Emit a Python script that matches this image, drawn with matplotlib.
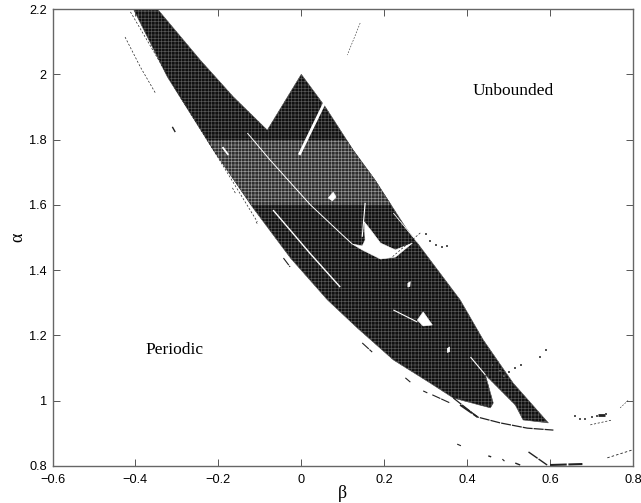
import matplotlib
matplotlib.use("Agg")
import matplotlib.pyplot as plt
from matplotlib.patches import Polygon, Rectangle

# main chaotic region outline (beta, alpha)
region_beta = [-0.405, -0.347, -0.244, -0.164, -0.082, 0.0, 0.058, 0.125, 0.178, 0.251, 0.383,
               0.439, 0.511, 0.596, 0.535, 0.516, 0.444, 0.463, 0.456, 0.367, 0.311, 0.222,
               0.135, 0.063, -0.026, -0.116, -0.212, -0.323]
region_alpha = [2.2, 2.2, 2.044, 1.931, 1.829, 2.0, 1.9, 1.768, 1.676, 1.532, 1.309,
                1.186, 1.054, 0.932, 0.941, 0.987, 1.079, 0.993, 0.978, 1.008, 1.054, 1.125,
                1.223, 1.309, 1.437, 1.59, 1.768, 1.992]

# windows inside the region
holes = [
    [(0.123, 1.48), (0.147, 1.462), (0.191, 1.434), (0.227, 1.44), (0.268, 1.483),
     (0.227, 1.462), (0.191, 1.483), (0.171, 1.517), (0.152, 1.548), (0.154, 1.492),
     (0.147, 1.474)],
    [(0.28, 1.247), (0.294, 1.272), (0.316, 1.232), (0.294, 1.229)],
    [(0.065, 1.621), (0.077, 1.639), (0.084, 1.624), (0.075, 1.612)],
    [(0.352, 1.16), (0.358, 1.165), (0.358, 1.15), (0.352, 1.148)],
    [(0.257, 1.36), (0.263, 1.365), (0.262, 1.35), (0.257, 1.348)],
]

# thin white streaks: (points, width)
white_lines = [
    ([(-0.005, 1.753), (0.063, 1.931)], 2.0),
    ([(-0.19, 1.777), (-0.176, 1.753)], 1.3),
    ([(-0.13, 1.82), (-0.075, 1.737), (0.022, 1.6), (0.094, 1.514), (0.123, 1.48)], 0.7),
    ([(-0.068, 1.584), (0.022, 1.45), (0.094, 1.348)], 1.0),
    ([(0.222, 1.278), (0.28, 1.241)], 0.8),
    ([(0.154, 1.606), (0.147, 1.502)], 0.8),
    ([(0.222, 1.575), (0.28, 1.486)], 0.6),
    ([(0.408, 1.134), (0.444, 1.079)], 0.8),
]

# fragments outside the region: (points, width)
black_lines = [
    ([(-0.412, 2.191), (-0.292, 1.931), (-0.212, 1.768), (-0.106, 1.548)], 0.5),
    ([(-0.425, 2.114), (-0.388, 2.022), (-0.352, 1.943)], 0.5),
    ([(-0.311, 1.839), (-0.304, 1.823)], 1.0),
    ([(-0.043, 1.437), (-0.027, 1.41)], 0.8),
    ([(0.147, 1.177), (0.171, 1.149)], 0.8),
    ([(0.367, 1.008), (0.425, 0.95), (0.48, 0.932), (0.545, 0.916), (0.608, 0.91)], 0.9),
    ([(0.316, 1.018), (0.359, 0.993)], 0.8),
    ([(0.251, 1.07), (0.263, 1.057)], 0.8),
    ([(0.294, 1.03), (0.304, 1.024)], 0.8),
    ([(0.383, 0.987), (0.425, 0.95)], 1.3),
    ([(0.376, 0.867), (0.385, 0.862)], 0.8),
    ([(0.548, 0.843), (0.593, 0.803)], 1.0),
    ([(0.6, 0.803), (0.678, 0.806)], 1.5),
    ([(0.451, 0.831), (0.458, 0.828)], 1.0),
    ([(0.485, 0.821), (0.49, 0.815)], 0.8),
    ([(0.516, 0.809), (0.528, 0.803)], 1.0),
    ([(0.697, 0.926), (0.75, 0.941)], 0.5),
    ([(0.738, 0.825), (0.798, 0.849)], 0.6),
    ([(0.142, 2.157), (0.111, 2.059)], 0.4),
    ([(0.769, 0.978), (0.789, 1.002)], 0.4),
    ([(0.287, 1.514), (0.219, 1.44)], 0.5),
    ([(-0.166, 1.652), (-0.159, 1.636)], 0.5),
    ([(-0.109, 1.548), (-0.104, 1.538)], 0.5),
    ([(0.715, 0.956), (0.732, 0.956)], 2.0),
]

# isolated specks
speck_beta = [0.66, 0.672, 0.685, 0.7, 0.712, 0.735, 0.516, 0.5, 0.53, 0.49,
              0.3, 0.31, 0.325, 0.34, 0.352, 0.575, 0.59, 0.46, 0.48]
speck_alpha = [0.952, 0.943, 0.945, 0.95, 0.953, 0.958, 1.1, 1.087, 1.11, 1.075,
               1.51, 1.49, 1.478, 1.47, 1.473, 1.135, 1.155, 1.11, 1.09]

x_ticks = [-0.6, -0.4, -0.2, 0, 0.2, 0.4, 0.6, 0.8]
x_labels = ["\u22120.6", "\u22120.4", "\u22120.2", "0", "0.2", "0.4", "0.6", "0.8"]
y_ticks = [0.8, 1, 1.2, 1.4, 1.6, 1.8, 2, 2.2]
y_labels = ["0.8", "1", "1.2", "1.4", "1.6", "1.8", "2", "2.2"]

plt.rcParams["font.family"] = ["Liberation Sans", "DejaVu Sans"]
plt.rcParams["hatch.linewidth"] = 0.45

fig = plt.figure(figsize=(6.41, 5.03), dpi=100)
ax = fig.add_axes([52.5 / 641, 1 - 466 / 503, 580.5 / 641, 457 / 503])

# dark body, with the lighter scan band between 1.6 and 1.8
body = Polygon(list(zip(region_beta, region_alpha)), closed=True, facecolor="#101010",
               edgecolor="#5a5a5a", linewidth=0.4, hatch="+++++", zorder=2)
ax.add_patch(body)
band = Rectangle((-0.6, 1.6), 1.4, 0.2, facecolor="#2e2e2e", edgecolor="#9a9a9a",
                 linewidth=0, hatch="+++++", zorder=3)
ax.add_patch(band)
band.set_clip_path(body)

for pts in holes:
    ax.add_patch(Polygon(pts, closed=True, facecolor="white", edgecolor="white",
                         linewidth=0.4, zorder=4))
for pts, w in white_lines:
    xs, ys = zip(*pts)
    ax.plot(xs, ys, color="white", lw=w, zorder=4, solid_capstyle="butt")
for pts, w in black_lines:
    xs, ys = zip(*pts)
    style = (0, (3, 2.5)) if w < 0.7 else (0, (8, 0.8))
    ax.plot(xs, ys, color="#222222", lw=w, zorder=5, ls=style)
ax.scatter(speck_beta, speck_alpha, s=1.5, c="#555555", marker="s", linewidths=0, zorder=5)

ax.set_xlim(-0.6, 0.8)
ax.set_ylim(0.8, 2.2)
ax.set_xticks(x_ticks, x_labels)
ax.set_yticks(y_ticks, y_labels)
ax.tick_params(direction="in", top=True, right=True, length=5, width=0.7,
               color="#555555", labelsize=9.2)
ax.tick_params(axis="x", pad=6)
ax.tick_params(axis="y", pad=4)
for s in ax.spines.values():
    s.set_color("#666666")
    s.set_linewidth(1.0)
    s.set_zorder(6)

ax.set_xlabel("\u03b2", fontsize=13, family=["Liberation Serif", "DejaVu Serif"], labelpad=-1)
ax.set_ylabel("\u03b1", fontsize=13, family=["Liberation Serif", "DejaVu Serif"], labelpad=2)
ax.text(0.51, 1.95, "Unbounded", fontsize=12.5, family="Liberation Serif", ha="center", va="center")
ax.text(-0.305, 1.155, "Periodic", fontsize=12.5, family="Liberation Serif", ha="center", va="center")

fig.savefig("out.png", dpi=100)
plt.close(fig)
